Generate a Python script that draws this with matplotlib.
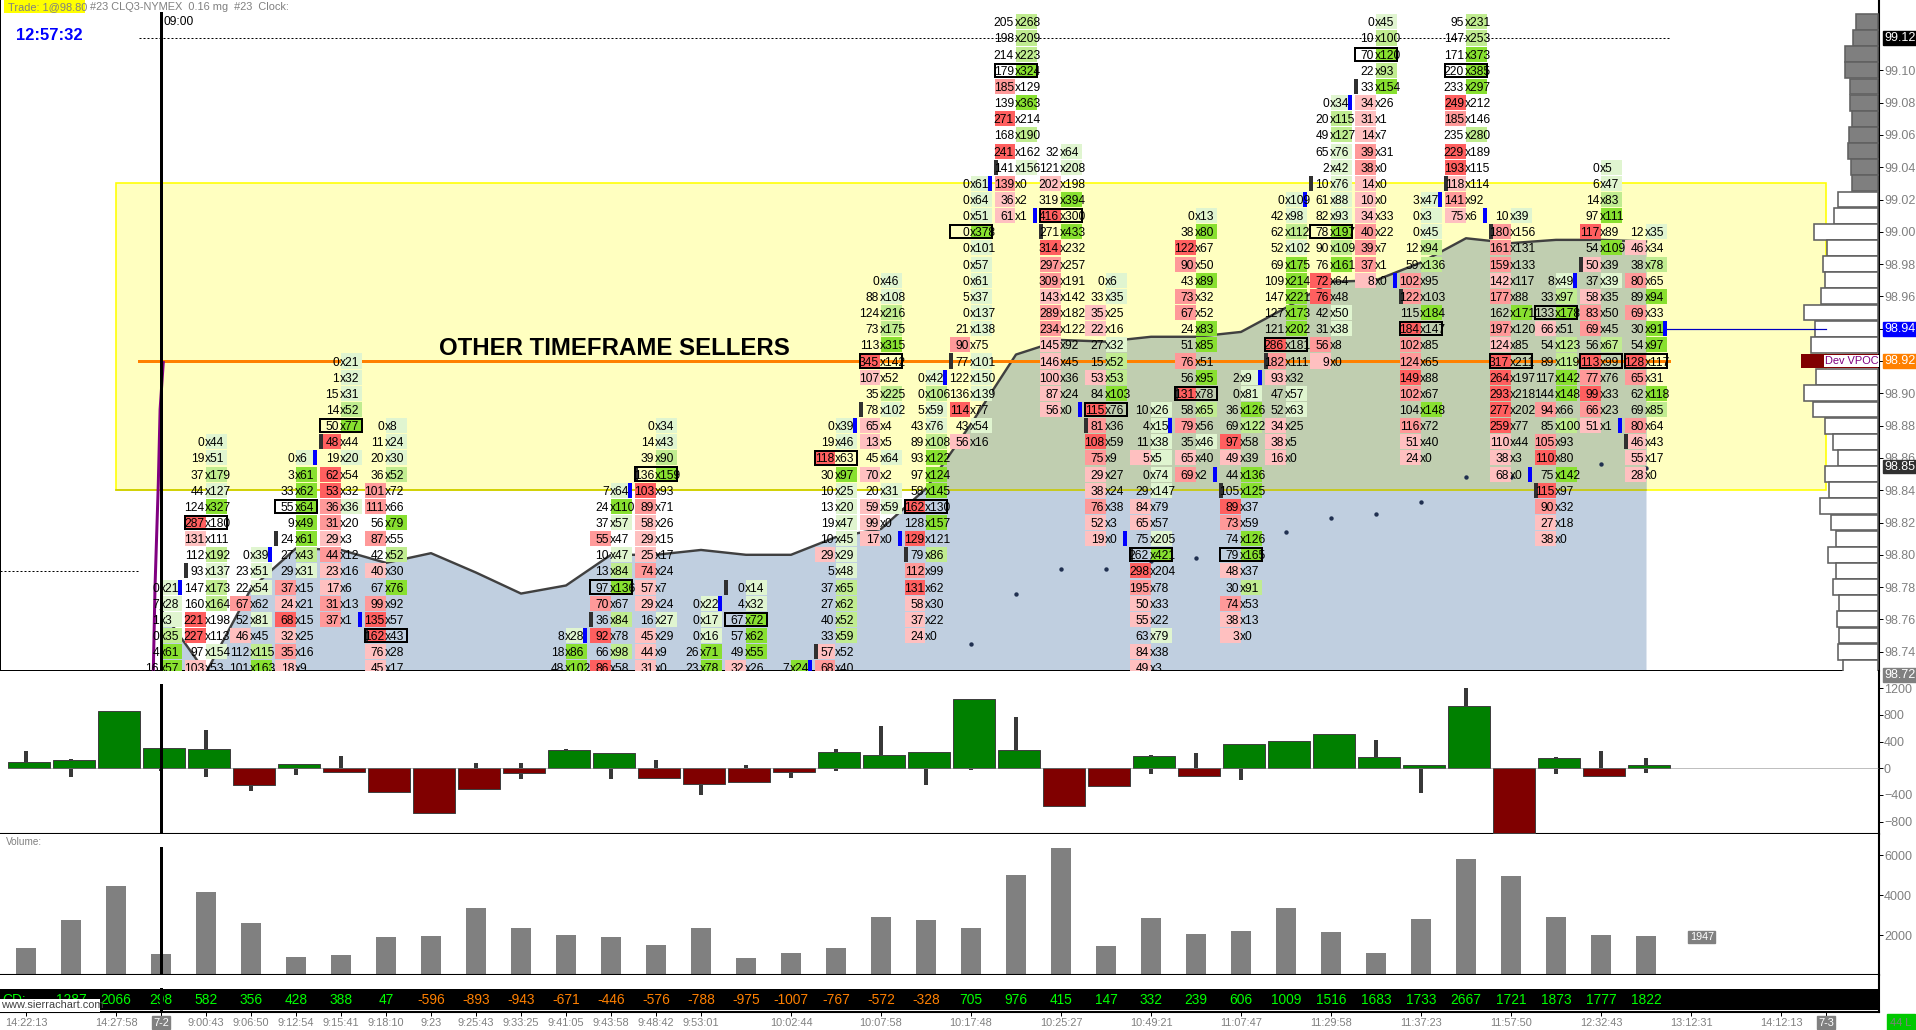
import matplotlib
matplotlib.use("Agg")
import matplotlib.pyplot as plt
from matplotlib.patches import Rectangle

plt.rcParams['font.family'] = ['Liberation Sans', 'DejaVu Sans']

W, H = 1916, 1030
AXIS_X = 1879

# footprint: bar index -> (top price, "bid x ask" rows going down one tick at a time)
fp_bars = [3, 4, 5, 6, 7, 8, 12, 13, 14, 15, 16, 17, 18, 19, 20, 21, 22, 23, 24, 25, 26, 27, 28, 29, 30, 31, 32, 33, 34, 35, 36]
fp_tops = [98.78, 98.87, 98.80, 98.86, 98.92, 98.88, 98.75, 98.84, 98.88, 98.77, 98.78, 98.73, 98.88, 98.97, 98.91, 99.03,
           99.13, 99.05, 98.97, 98.89, 99.01, 98.91, 99.02, 99.08, 99.13, 99.02, 99.13, 99.01, 98.97, 99.04, 99.00]
fp_rows = [
    "0x21 7x28 1x3 0x35 4x61 16x57",
    "0x44 19x51 37x179 44x127 124x327 287x180 131x111 112x192 93x137 147x173 160x164 221x198 227x113 97x154 103x53",
    "0x39 23x51 22x54 67x62 52x81 46x45 112x115 101x163",
    "0x6 3x61 33x62 55x64 9x49 24x61 27x43 29x31 37x15 24x21 68x15 32x25 35x16 18x9",
    "0x21 1x32 15x31 14x52 50x77 48x44 19x20 62x54 53x32 36x36 31x20 29x3 44x12 23x16 17x6 31x13 37x1",
    "0x8 11x24 20x30 36x52 101x72 111x66 56x79 87x55 42x52 40x30 67x76 99x92 135x57 162x43 76x28 45x17",
    "8x28 18x86 48x102",
    "7x64 24x110 37x57 55x47 10x47 13x84 97x136 70x67 36x84 92x78 66x98 86x58",
    "0x34 14x43 39x90 136x159 103x93 89x71 58x26 29x15 25x17 74x24 57x7 29x24 16x27 45x29 44x9 31x0",
    "0x22 0x17 0x16 26x71 23x78",
    "0x14 4x32 67x72 57x62 49x55 32x26",
    "7x24",
    "0x39 19x46 118x63 30x97 10x25 13x20 19x47 10x45 29x29 5x48 37x65 27x62 40x52 33x59 57x52 68x40",
    "0x46 88x108 124x216 73x175 113x315 345x142 107x52 35x225 78x102 65x4 13x5 45x64 70x2 20x31 59x59 99x0 17x0",
    "0x42 0x106 5x59 43x76 89x108 93x122 97x124 58x145 162x130 128x157 129x121 79x86 112x99 131x62 58x30 37x22 24x0",
    "0x61 0x64 0x51 0x378 0x101 0x57 0x61 5x37 0x137 21x138 90x75 77x101 122x150 136x139 114x77 43x54 56x16",
    "205x268 198x209 214x223 179x324 185x129 139x363 271x214 168x190 241x162 141x156 139x0 36x2 61x1",
    "32x64 121x208 202x198 319x394 416x300 271x433 314x232 297x257 309x191 143x142 289x182 234x122 145x92 146x45 100x36 87x24 56x0",
    "0x6 33x35 35x25 22x16 27x32 15x52 53x53 84x103 115x76 81x36 108x59 75x9 29x27 38x24 76x38 52x3 19x0",
    "10x26 4x15 11x38 5x5 0x74 29x147 84x79 65x57 75x205 262x421 298x204 195x78 50x33 55x22 63x79 84x38 49x3",
    "0x13 38x80 122x67 90x50 43x89 73x32 67x52 24x83 51x85 76x51 56x95 131x78 58x65 79x56 35x46 65x40 69x2",
    "2x9 0x81 36x126 69x122 97x58 49x39 44x136 105x125 89x37 73x59 74x126 79x165 48x37 30x91 74x53 38x13 3x0",
    "0x109 42x98 62x112 52x102 69x175 109x214 147x221 127x173 121x202 286x181 182x111 93x32 47x57 52x63 34x25 38x5 16x0",
    "0x34 20x115 49x127 65x76 2x42 10x76 61x88 82x93 78x197 90x109 76x161 72x64 76x48 42x50 31x38 56x8 9x0",
    "0x45 10x100 70x120 22x93 33x154 34x26 31x1 14x7 39x31 38x0 14x0 10x0 34x33 40x22 39x7 37x1 8x0",
    "3x47 0x3 0x45 12x94 59x136 102x95 122x103 115x184 184x147 102x85 124x65 149x88 102x67 104x148 116x72 51x40 24x0",
    "95x231 147x253 171x373 220x385 233x297 249x212 185x146 235x280 229x189 193x115 118x114 141x92 75x6",
    "10x39 180x156 161x131 159x133 142x117 177x88 162x171 197x120 124x85 317x211 264x197 293x218 277x202 259x77 110x44 38x3 68x0",
    "8x49 33x97 133x178 66x51 54x123 89x119 117x142 144x148 94x66 85x100 105x93 110x80 75x142 115x97 90x32 27x18 38x0",
    "0x5 6x47 14x83 97x111 117x89 54x109 50x39 37x39 58x35 83x50 69x45 56x67 113x99 77x76 99x33 66x23 51x1",
    "12x35 46x34 38x78 80x65 89x94 69x33 30x91 54x97 128x117 65x31 62x118 69x85 80x64 46x43 55x17 28x0",
]
# columns cut off by the panel bottom, no POC box is visible on them
clipped_bars = [3, 5, 12, 15, 17]

open_bars = [4, 6, 7, 8, 13, 14, 16, 18, 19, 20, 21, 22, 23, 24, 25, 26, 27, 28, 29, 30, 31, 32, 33, 34, 35, 36]
open_prices = [98.79, 98.81, 98.87, 98.75, 98.76, 98.85, 98.78, 98.74, 98.89, 98.80, 98.92, 99.04, 99.00, 98.88, 98.80,
               98.90, 98.84, 98.92, 99.03, 99.09, 98.96, 99.03, 99.00, 98.84, 98.98, 98.87]
close_bars = [3, 5, 6, 7, 12, 13, 15, 17, 18, 19, 20, 21, 22, 23, 24, 25, 26, 27, 28, 29, 30, 31, 32, 33, 34, 35, 36]
close_prices = [98.78, 98.80, 98.86, 98.76, 98.75, 98.84, 98.77, 98.73, 98.88, 98.81, 98.91, 99.03, 99.01, 98.89, 98.81,
                98.88, 98.85, 98.91, 99.02, 99.08, 98.97, 99.02, 99.01, 98.85, 98.97, 98.88, 98.94]

# area line
area_bars = list(range(3, 37))
area_prices = [98.766, 98.727, 98.779, 98.804, 98.803, 98.795, 98.801, 98.789, 98.776, 98.781, 98.800, 98.800, 98.803,
               98.800, 98.800, 98.811, 98.816, 98.841, 98.881, 98.924, 98.933, 98.932, 98.935, 98.935, 98.938, 98.953,
               98.969, 98.970, 98.981, 98.996, 98.993, 98.995, 98.995, 98.994]
dot_bars = [21, 22, 23, 24, 25, 26, 28, 29, 30, 31, 32, 33, 35, 36]
dot_prices = [98.745, 98.776, 98.791, 98.791, 98.796, 98.798, 98.814, 98.823, 98.825, 98.833, 98.848, 98.848, 98.856, 98.854]
spike_x = [2.83, 2.867, 2.90, 2.94, 2.98, 3.05]
spike_p = [98.729, 98.780, 98.809, 98.844, 98.890, 98.919]

# volume profile at the right
profile_prices = [99.13, 99.12, 99.11, 99.10, 99.09, 99.08, 99.07, 99.06, 99.05, 99.04, 99.03,
                  99.02, 99.01, 99.00, 98.99, 98.98, 98.97, 98.96, 98.95, 98.94, 98.93, 98.92, 98.91, 98.90, 98.89,
                  98.88, 98.87, 98.86, 98.85, 98.84, 98.83, 98.82, 98.81, 98.80, 98.79, 98.78, 98.77, 98.76, 98.75,
                  98.74, 98.73]
profile_vol = [22, 25, 33, 33, 28, 28, 26, 29, 30, 27, 26,
               40, 44, 64, 51, 55, 53, 57, 74, 63, 67, 77, 62, 74, 65,
               53, 45, 40, 53, 49, 58, 47, 42, 50, 42, 45, 39, 41, 39, 40, 35]

# delta candles
delta_body = [90, 120, 855, 300, 285, -245, 60, -50, -350, -665, -305, -65, 270, 225, -140, -230, -200, -50, 240, 195, 240,
              1035, 270, -570, -270, 180, -110, 360, 405, 510, 165, 45, 930, -965, 150, -110, 45]
delta_high = [260, 140, 855, 300, 575, 0, 60, 185, 0, 0, 75, 75, 290, 225, 125, 0, 50, 0, 290, 635, 240,
              1035, 770, 0, 0, 200, 225, 360, 405, 510, 425, 45, 1200, 0, 165, 260, 150]
delta_low = [0, -125, 0, -40, -125, -335, -95, -50, -350, -665, -305, -155, 0, -155, -140, -395, -200, -140, -35, 0, -245,
             -20, 0, -570, -270, -80, -110, -170, 0, 0, 0, -365, 0, -965, -80, -110, -65]
volume = [1350, 2750, 4450, 1050, 4150, 2600, 900, 1000, 1900, 1950, 3350, 2350, 2000, 1900, 1500, 2350, 850, 1100, 1350,
          2900, 2750, 2350, 5000, 6350, 1450, 2850, 2050, 2200, 3350, 2150, 1100, 2800, 5800, 4950, 2900, 2000, 1947]
cd_values = ["", "1287", "2066", "298", "582", "356", "428", "388", "47", "-596", "-893", "-943", "-671", "-446", "-576",
             "-788", "-975", "-1007", "-767", "-572", "-328", "705", "976", "415", "147", "332", "239", "606", "1009",
             "1516", "1683", "1733", "2667", "1721", "1873", "1777", "1822"]
date_bars = [0, 2, 3, 4, 5, 6, 7, 8, 9, 10, 11, 12, 13, 14, 15, 17, 19, 21, 23, 25, 27, 29, 31, 33, 35, 37, 39, 40]
date_labels = ["14:22:13", "14:27:58", "", "9:00:43", "9:06:50", "9:12:54", "9:15:41", "9:18:10", "9:23", "9:25:43",
               "9:33:25", "9:41:05", "9:43:58", "9:48:42", "9:53:01", "10:02:44", "10:07:58", "10:17:48", "10:25:27",
               "10:49:21", "11:07:47", "11:29:58", "11:37:23", "11:57:50", "12:32:43", "13:12:31", "14:12:13", ""]


def px(size):
    return size * 72 / 100


def panel(top, bottom):
    return fig.add_axes([0, 1 - bottom / H, AXIS_X / W, (bottom - top) / H])


fig = plt.figure(figsize=(W / 100, H / 100), dpi=100, facecolor='white')
GRAY = '#808080'
XLIM = (-26 / 45, (AXIS_X - 26) / 45)
bpx = 1 / 45  # one pixel in bar units
DOTS = (0, (2, 2))
AXIS_FONT = px(12.5)

ax = panel(0, 671)
ax.set_xlim(XLIM)
# 1615 px for one price unit, 98.92 sits on y=361
ax.set_ylim(98.92 - (671 - 361) / 1615, 98.92 + 361 / 1615)
for s in ['top', 'bottom', 'left']:
    ax.spines[s].set_visible(False)
ax.spines['right'].set_linewidth(1.5)
ax.plot([XLIM[0], XLIM[0]], ax.get_ylim(), color='k', lw=px(2), clip_on=True)
ax.axhline(ax.get_ylim()[0], color='k', lw=px(2))

# yellow band first, area on top of it
band_x, band_w, band_lo, band_hi = 2.0, 38.0, 98.84, 99.03
ax.add_patch(Rectangle((band_x, band_lo), band_w, band_hi - band_lo, fc='#FFFFC0', ec='#FFFF00', lw=px(1.6), zorder=1))
bottom = ax.get_ylim()[0]
ax.fill_between(area_bars, area_prices, bottom, color='#C0CFE0', lw=0, zorder=1.5)
green_part = ax.fill_between(area_bars, area_prices, bottom, color='#C0CEB0', lw=0, zorder=1.6)
green_part.set_clip_path(Rectangle((band_x, band_lo), band_w, band_hi - band_lo, transform=ax.transData))
ax.plot([band_x, 36], [band_lo, band_lo], color='#C8C800', lw=px(1.6), zorder=1.7)
ax.plot(area_bars, area_prices, color='#404040', lw=px(2.4), zorder=1.8)
ax.plot(dot_bars, dot_prices, ls='none', marker='o', ms=px(3), color='#203050', zorder=1.8)

ax.plot([2.51, 36.5], [98.92, 98.92], color='#FF8000', lw=px(3), zorder=2)
ax.plot([2.51, 36.5], [99.12, 99.12], color='k', lw=px(1), ls=DOTS, zorder=2)
ax.plot([XLIM[0], 2.51], [98.79, 98.79], color='k', lw=px(1), ls=DOTS, zorder=2)
ax.plot(spike_x, spike_p, color='#800080', lw=px(3), zorder=2.5)

# cells, colour comes from the share of the column max
RED = ['#FFC0C0', '#FF9999', '#FF5F5F']
GREEN = ['#E0F5D0', '#C0EC90', '#88E030']


def shade(v, top):
    if v >= 0.75 * top:
        return 2
    return 1 if v >= 0.5 * top else 0


for bar, ptop, rows in zip(fp_bars, fp_tops, fp_rows):
    pairs = [r.split('x') for r in rows.split()]
    bids = [int(a) for a, b in pairs]
    asks = [int(b) for a, b in pairs]
    totals = [a + b for a, b in zip(bids, asks)]
    poc = totals.index(max(totals))
    for k, (b, a) in enumerate(zip(bids, asks)):
        p = ptop - k * 0.01
        if b >= a:
            ax.add_patch(Rectangle((bar - 21.5 * bpx, p - 0.00465), 21 * bpx, 0.0093, fc=RED[shade(b, max(bids))], lw=0, zorder=3))
        if a >= b:
            ax.add_patch(Rectangle((bar, p - 0.00465), 21 * bpx, 0.0093, fc=GREEN[shade(a, max(asks))], lw=0, zorder=3))
        ax.text(bar - 2 * bpx, p, str(b), ha='right', va='center_baseline', fontsize=px(12), color='k', zorder=6, clip_on=True)
        ax.text(bar - 1.5 * bpx, p, 'x' + str(a), ha='left', va='center_baseline', fontsize=px(12), color='k', zorder=6, clip_on=True)
    if bar not in clipped_bars:
        ax.add_patch(Rectangle((bar - 21 * bpx, ptop - poc * 0.01 - 0.0041), 41.5 * bpx, 0.0082, fc='none', ec='k', lw=px(2), zorder=7))

for bar, p in zip(open_bars, open_prices):
    ax.add_patch(Rectangle((bar - 22 * bpx, p - 0.00465), 4 * bpx, 0.0093, fc='#303030', lw=0, zorder=5))
for bar, p in zip(close_bars, close_prices):
    ax.add_patch(Rectangle((bar + 17 * bpx, p - 0.00465), 4 * bpx, 0.0093, fc='#0000FF', lw=0, zorder=5))

ax.plot([3, 3], [ax.get_ylim()[0], 98.92 + (361 - 13) / 1615], color='k', lw=px(3), zorder=8)

ax.text(9.18, 98.928, 'OTHER TIMEFRAME SELLERS', ha='left', va='center', fontsize=px(24), fontweight='bold', color='k', zorder=9)
ax.text(3.05, 99.13, '09:00', ha='left', va='center', fontsize=px(12), color='k', zorder=9)

# price axis
ptick = [98.74 + 0.02 * k for k in range(19)]
ax.yaxis.tick_right()
ax.set_yticks(ptick)
ax.set_yticklabels(['%.2f' % v for v in ptick])
ax.tick_params(axis='y', length=px(4), width=px(1), pad=px(1), labelsize=AXIS_FONT, labelcolor=GRAY)
ax.set_xticks([])
for label, p, bg in [('99.12', 99.12, 'k'), ('98.94', 98.94, '#0000FF'), ('98.92', 98.92, '#FF8000'),
                     ('98.85', 98.8546, '#303030'), ('98.72', 98.7256, GRAY)]:
    ax.annotate(label, xy=(1, p), xycoords=('axes fraction', 'data'), xytext=(px(5), 0), textcoords='offset points',
                va='center', ha='left', fontsize=AXIS_FONT, color='white', annotation_clip=False,
                bbox=dict(fc=bg, ec=bg, pad=0.6), zorder=10)

# profile runs in from the axis, in its own x scale
pr = ax.twiny()
pr.set_xlim(AXIS_X - 1, -1)
pr.axis('off')
for p, v in zip(profile_prices, profile_vol):
    fc = '#7F7F7F' if p > 99.025 else 'white'
    if abs(p - 98.92) < 0.001:
        pr.barh(p, v, height=0.0088, color='#800000', lw=0)
    else:
        pr.barh(p, v, height=0.0098, color=fc, edgecolor='#606060', lw=px(1.6))
pr.text(53, 98.92, 'Dev VPOC', ha='left', va='center', fontsize=px(11), color='#800080',
        bbox=dict(fc='white', ec='none', pad=0.5))
pr.plot([211, 51.5], [98.94, 98.94], color='#0000C0', lw=px(1.2))

# header, drawn in pixels on the figure
fig.patches.append(Rectangle((4 / W, 1 - 13 / H), 81 / W, 13 / H, transform=fig.transFigure, fc='#FFFF00', lw=0))
fig.text(8 / W, 1 - 7 / H, 'Trade: 1@98.80', va='center', fontsize=px(11), color=GRAY)
fig.text(90 / W, 1 - 7 / H, '#23 CLQ3-NYMEX  0.16 mg  #23  Clock:', va='center', fontsize=px(11), color=GRAY)
fig.text(16 / W, 1 - 35 / H, '12:57:32', va='center', fontsize=px(16.5), fontweight='bold', color='#0000FF')

# delta panel
dx = panel(671, 834)
dx.set_xlim(XLIM)
dx.set_ylim((768.3 - 834) * 15, (768.3 - 671) * 15)
x_bar = list(range(37))
dx.vlines(x_bar, delta_low, delta_high, color='#383838', lw=px(4), zorder=2)
dx.bar([x + 3 * bpx for x in x_bar], delta_body, width=42 * bpx,
       color=['#008000' if v > 0 else '#800000' for v in delta_body], edgecolor='#404040', lw=px(1), zorder=3)
dx.plot([-0.4, XLIM[1]], [0, 0], color=GRAY, lw=px(1), ls=(0, (1, 1)), zorder=4)
dx.plot([3, 3], [dx.get_ylim()[0], (768.3 - 685) * 15], color='k', lw=px(3), zorder=5)
dx.yaxis.tick_right()
dx.set_yticks([-800, -400, 0, 400, 800, 1200])
dx.set_xticks([])
dx.tick_params(axis='y', length=px(4), width=px(1), pad=px(1), labelsize=AXIS_FONT, labelcolor=GRAY)
for s in ['top', 'left']:
    dx.spines[s].set_visible(False)
dx.spines['bottom'].set_linewidth(1.5)
dx.spines['right'].set_linewidth(1.5)

# volume panel
vx = panel(834, 975)
vx.set_xlim(XLIM)
vx.set_ylim(0, (975 - 834) * 50)
vx.bar(x_bar, volume, width=20 * bpx, color=GRAY, lw=0)
vx.plot([3, 3], [0, (975 - 848) * 50], color='k', lw=px(3))
vx.yaxis.tick_right()
vx.set_yticks([2000, 4000, 6000])
vx.set_xticks([])
vx.tick_params(axis='y', length=px(4), width=px(1), pad=px(1), labelsize=AXIS_FONT, labelcolor=GRAY)
for s in ['top', 'left']:
    vx.spines[s].set_visible(False)
vx.spines['bottom'].set_linewidth(1.5)
vx.spines['right'].set_linewidth(1.5)
vx.text(6 * bpx + XLIM[0], (975 - 842) * 50, 'Volume:', va='center', fontsize=px(10), color=GRAY)
vx.text(37.24, 1900, '1947', ha='center', va='center', fontsize=px(10.8), color='white', bbox=dict(fc=GRAY, ec=GRAY, pad=1))

# study strip and date scale
sx = panel(975, 1012)
sx.set_xlim(XLIM)
sx.set_ylim(37, 0)
sx.axhspan(14, 35, color='k', lw=0)
for i, v in enumerate(cd_values):
    sx.text(i, 25, v, ha='center', va='center', fontsize=px(13.8), color='#FF8000' if v.startswith('-') else '#00FF00')
sx.text(XLIM[0] + 2 * bpx, 25, 'CD:', va='center', fontsize=px(13.8), color='#00FF00')
sx.add_patch(Rectangle((XLIM[0], 24), 100 * bpx, 13, fc='white', lw=0, zorder=4))
sx.text(XLIM[0] + 1 * bpx, 30.5, 'www.sierrachart.com', va='center', fontsize=px(11), color='#404040', zorder=5)
sx.plot([3, 3], [14, 37], color='k', lw=px(3), zorder=6)
for s in ['top', 'left']:
    sx.spines[s].set_visible(False)
sx.spines['right'].set_linewidth(1.5)
sx.spines['bottom'].set_linewidth(1.5)
sx.set_yticks([])
sx.set_xticks(date_bars)
sx.set_xticklabels(date_labels)
sx.tick_params(axis='x', length=px(4), width=px(1), pad=px(2), labelsize=px(11), labelcolor=GRAY)
for bar, label in [(3, '7-2'), (40, '7-3')]:
    sx.annotate(label, xy=(bar, 0), xycoords=('data', 'axes fraction'), xytext=(0, -px(10.5)), textcoords='offset points',
                ha='center', va='center', fontsize=px(11), color='white', annotation_clip=False,
                bbox=dict(fc=GRAY, ec=GRAY, pad=1))
fig.text(1901 / W, 1 - 1023 / H, '44 L', ha='center', va='center', fontsize=px(11), color=GRAY,
         bbox=dict(fc='#00C800', ec='#00C800', pad=2.5))

fig.savefig('out.png', dpi=100)
